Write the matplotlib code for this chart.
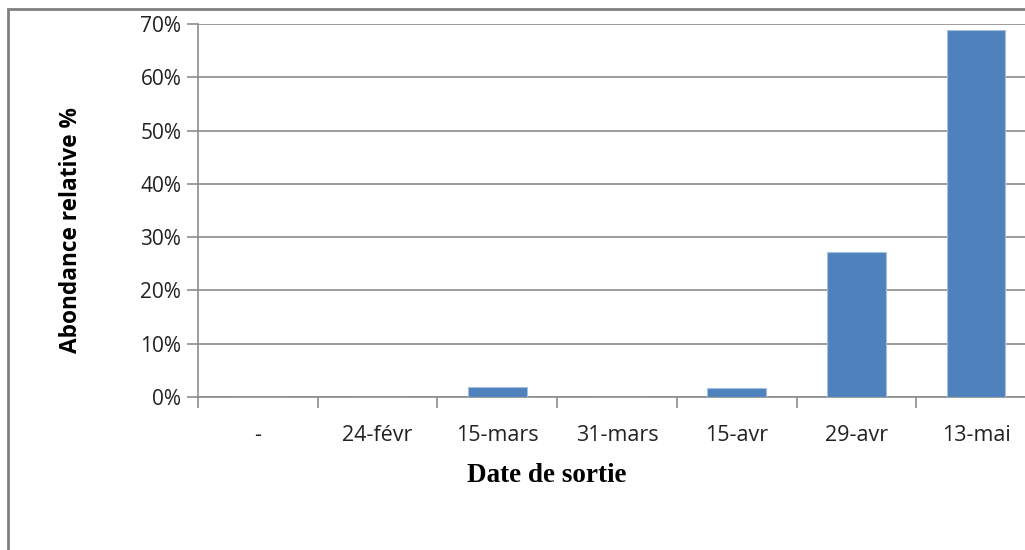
import matplotlib.pyplot as plt
from matplotlib.patches import Rectangle
from matplotlib.ticker import FixedLocator, PercentFormatter

dates = ['-', '24-févr', '15-mars', '31-mars', '15-avr', '29-avr', '13-mai']
abondance = [0, 0, 1.9, 0, 1.7, 27.3, 68.9]
y_ticks = [0, 10, 20, 30, 40, 50, 60, 70]

W, H = 1025, 550
fig = plt.figure(figsize=(W / 100, H / 100), dpi=100)

# plot area runs a bit past the right edge of the picture, as in the original
ax = fig.add_axes([198 / W, (H - 397) / H, 838 / W, 373 / H])

x = list(range(len(dates)))
ax.bar(x, abondance, width=0.49, color='#4F81BD', edgecolor='#A7BFDE', linewidth=0.8, zorder=3)

ax.set_xlim(-0.5, len(dates) - 0.5)
ax.set_ylim(0, 70)
ax.set_yticks(y_ticks)
ax.yaxis.set_major_formatter(PercentFormatter(decimals=0))
ax.grid(axis='y', color='#8C8C8C', linewidth=1.2, zorder=0)

ax.set_xticks(x)
ax.set_xticklabels(dates)
ax.xaxis.set_minor_locator(FixedLocator([i - 0.5 for i in range(len(dates) + 1)]))
ax.tick_params(axis='x', which='major', length=0, pad=20)
ax.tick_params(axis='x', which='minor', length=8, width=1.2, color='#8C8C8C')
ax.tick_params(axis='y', length=8, width=1.2, color='#8C8C8C', pad=4)
for lab in ax.get_xticklabels():
    lab.set_fontfamily('Open Sans')
    lab.set_fontsize(15.5)
    lab.set_color('#222222')
for lab in ax.get_yticklabels():
    lab.set_fontfamily('Open Sans')
    lab.set_fontsize(15)
    lab.set_color('#222222')

for side in ['top', 'right']:
    ax.spines[side].set_visible(False)
for side in ['left', 'bottom']:
    ax.spines[side].set_color('#8C8C8C')
    ax.spines[side].set_linewidth(1.2)

ax.set_xlabel('Date de sortie', family='Liberation Serif', fontweight='bold', fontsize=19.5)
ax.xaxis.set_label_coords((547 - 198) / 838, -(475 - 397) / 373)
ax.set_ylabel('Abondance relative %', family='Open Sans', fontweight='bold', fontsize=16.3)
ax.yaxis.set_label_coords(-(198 - 71) / 838, (397 - 230) / 373)
ax.yaxis.label.set_verticalalignment('center')
ax.xaxis.label.set_verticalalignment('center')

# outer chart border (left and top visible, rest runs off the picture)
fig.add_artist(Rectangle((8 / W, -0.05), 1.1, (H - 9) / H + 0.05, transform=fig.transFigure,
                         fill=False, edgecolor='#808080', linewidth=2, clip_on=False))

plt.savefig('out.png', dpi=100)
plt.close()
